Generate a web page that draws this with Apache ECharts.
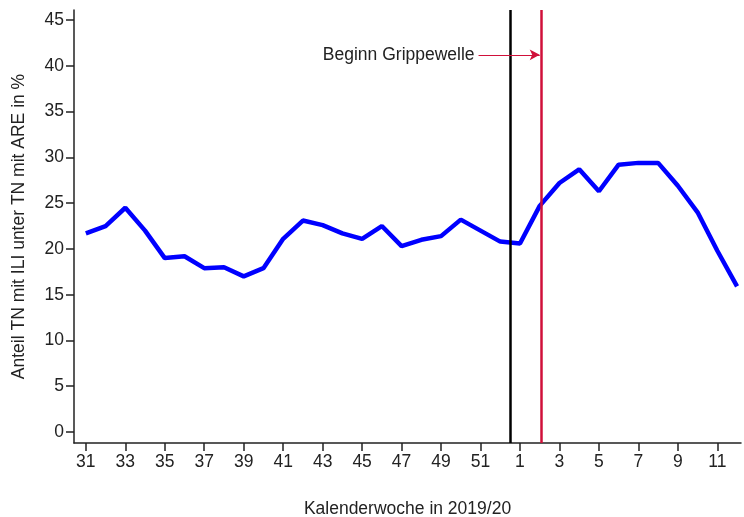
<!DOCTYPE html><html><head><meta charset="utf-8"><script src="https://cdn.jsdelivr.net/npm/echarts@6/dist/echarts.min.js"></script></head><body style="margin:0"><div id="c" style="width:744px;height:517px"></div><script>
const weeks=[31,32,33,34,35,36,37,38,39,40,41,42,43,44,45,46,47,48,49,50,51,52,1,2,3,4,5,6,7,8,9,10,11,12];
const values=[21.7,22.5,24.5,22,19,19.2,17.9,18,17,17.9,21.1,23.1,22.6,21.7,21.1,22.5,20.3,21,21.4,23.2,22,20.8,20.6,24.7,27.2,28.7,26.3,29.2,29.4,29.4,26.9,24,19.8,15.9];
const yTicks=[0,5,10,15,20,25,30,35,40,45];
const annotationText='Beginn Grippewelle';
const blackLineAt=21.5, redLineAt=23.1;
const tickIdx=weeks.map((w,i)=>i).filter(i=>i%2===0);
const c=echarts.init(document.getElementById('c'));
const F='Liberation Sans, Arial, sans-serif';
c.setOption({animation:false,
grid:{left:74,right:3,top:10,bottom:74,containLabel:false,outerBoundsMode:'none'},
xAxis:{type:'value',min:-0.6,max:33.2,name:'Kalenderwoche in 2019/20',nameLocation:'middle',nameGap:57,nameTextStyle:{fontSize:17.5,color:'#222',fontFamily:F},
 axisLine:{onZero:false,lineStyle:{color:'#222',width:1.5}},splitLine:{show:false},
 axisTick:{customValues:tickIdx,length:8,lineStyle:{color:'#222',width:1.5}},
 axisLabel:{customValues:tickIdx,formatter:v=>weeks[Math.round(v)],fontSize:17.5,color:'#222',fontFamily:F,margin:10}},
yAxis:{type:'value',min:-1.2,max:46.1,name:'Anteil TN mit ILI unter TN mit ARE in %',nameLocation:'middle',nameGap:46,nameTextStyle:{fontSize:17.5,color:'#222',fontFamily:F},
 axisLine:{show:true,onZero:false,lineStyle:{color:'#222',width:1.5}},splitLine:{show:false},
 axisTick:{show:true,customValues:yTicks,length:8,lineStyle:{color:'#222',width:1.5}},
 axisLabel:{customValues:yTicks,fontSize:17.5,color:'#222',fontFamily:F,margin:10}},
series:[{type:'line',data:values.map((v,i)=>[i,v]),symbol:'none',lineStyle:{color:'#0000ff',width:4.5},
 markLine:{silent:true,symbol:'none',label:{show:false},data:[
  {xAxis:blackLineAt,lineStyle:{color:'#000',width:2.5,type:'solid'}},
  {xAxis:redLineAt,lineStyle:{color:'#d0103a',width:2.5,type:'solid'}},
  [{coord:[19.9,41.2],symbol:'none'},{coord:[23,41.2],symbol:'arrow',symbolSize:[8,10]}]
 ].map((d,i)=>i===2?d.map((p,j)=>Object.assign(p,{lineStyle:{color:'#d0103a',width:1.2,type:'solid'}})):d)},
 markPoint:{symbol:'circle',symbolSize:0,data:[{coord:[19.7,41.2],label:{show:true,position:'left',distance:0,formatter:annotationText,fontSize:17.5,color:'#222',fontFamily:F}}]}
}]});
</script></body></html>
